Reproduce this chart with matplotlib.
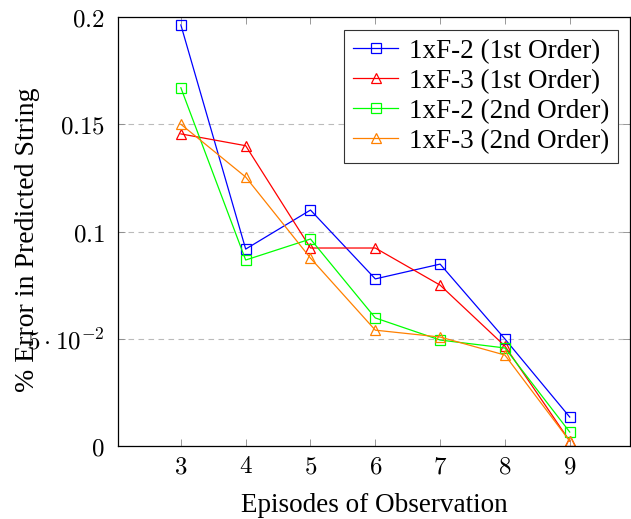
import matplotlib
matplotlib.use("Agg")
import matplotlib.pyplot as plt

episodes = [3, 4, 5, 6, 7, 8, 9]
f2_first = [0.1963, 0.0918, 0.1100, 0.0779, 0.0848, 0.0499, 0.0135]
f3_first = [0.1455, 0.1400, 0.0923, 0.0923, 0.0750, 0.0466, 0.0023]
f2_second = [0.1670, 0.0867, 0.0965, 0.0597, 0.0494, 0.0457, 0.0065]
f3_second = [0.1500, 0.1254, 0.0876, 0.0540, 0.0508, 0.0424, 0.0023]
labels = ["1xF-2 (1st Order)", "1xF-3 (1st Order)",
          "1xF-2 (2nd Order)", "1xF-3 (2nd Order)"]
yticks = [0, 0.05, 0.1, 0.15, 0.2]
ytick_labels = ["$0$", r"$5\cdot10^{-2}$", "$0.1$", "$0.15$", "$0.2$"]

plt.rcParams['mathtext.fontset'] = 'cm'
serif = ['Liberation Serif', 'DejaVu Serif']

fig = plt.figure(figsize=(6.31, 5.19), dpi=100)
ax = fig.add_axes([118 / 631, 1 - 446 / 519, 512 / 631, 429 / 519])

# series: color, marker
styles = [("#0000ff", "s"), ("#ff0000", "^"), ("#00ff00", "s"), ("#ff8000", "^")]
series = [f2_first, f3_first, f2_second, f3_second]
for vals, (col, mk), lab in zip(series, styles, labels):
    ax.plot(episodes, vals, color=col, marker=mk, markersize=7.5,
            markerfacecolor='none', markeredgewidth=0.9, linewidth=0.9, label=lab)

ax.set_xlim(2.03, 9.93)
ax.set_ylim(0, 0.2)
ax.set_xticks(episodes)
ax.set_xticklabels(["$%d$" % e for e in episodes])
ax.set_yticks(yticks)
ax.set_yticklabels(ytick_labels)
ax.tick_params(direction='in', top=True, right=True, length=5, width=0.6,
               color='#888888', labelsize=18)
ax.tick_params(axis='y', pad=9.5)
ax.tick_params(axis='x', pad=6)
ax.grid(axis='y', linestyle=(0, (5, 4)), color='#bbbbbb', linewidth=0.8)
for sp in ax.spines.values():
    sp.set_linewidth(0.9)

ax.set_xlabel("Episodes of Observation", family=serif, fontsize=19.5)
ax.xaxis.set_label_coords(0.5, -47 / 429)
ax.set_ylabel("% Error in Predicted String", family=serif, fontsize=20)
ax.yaxis.set_label_coords(-78 / 512, 0.48)

leg = ax.legend(loc='upper right', bbox_to_anchor=(500 / 512, 416 / 429), borderaxespad=0,
                prop={'family': serif, 'size': 19.5},
                fancybox=False, edgecolor='#333333', framealpha=1,
                handlelength=1.65, borderpad=0.33, labelspacing=0.18, handletextpad=0.4)
leg.get_frame().set_linewidth(0.8)

fig.savefig("out.png", dpi=100)
